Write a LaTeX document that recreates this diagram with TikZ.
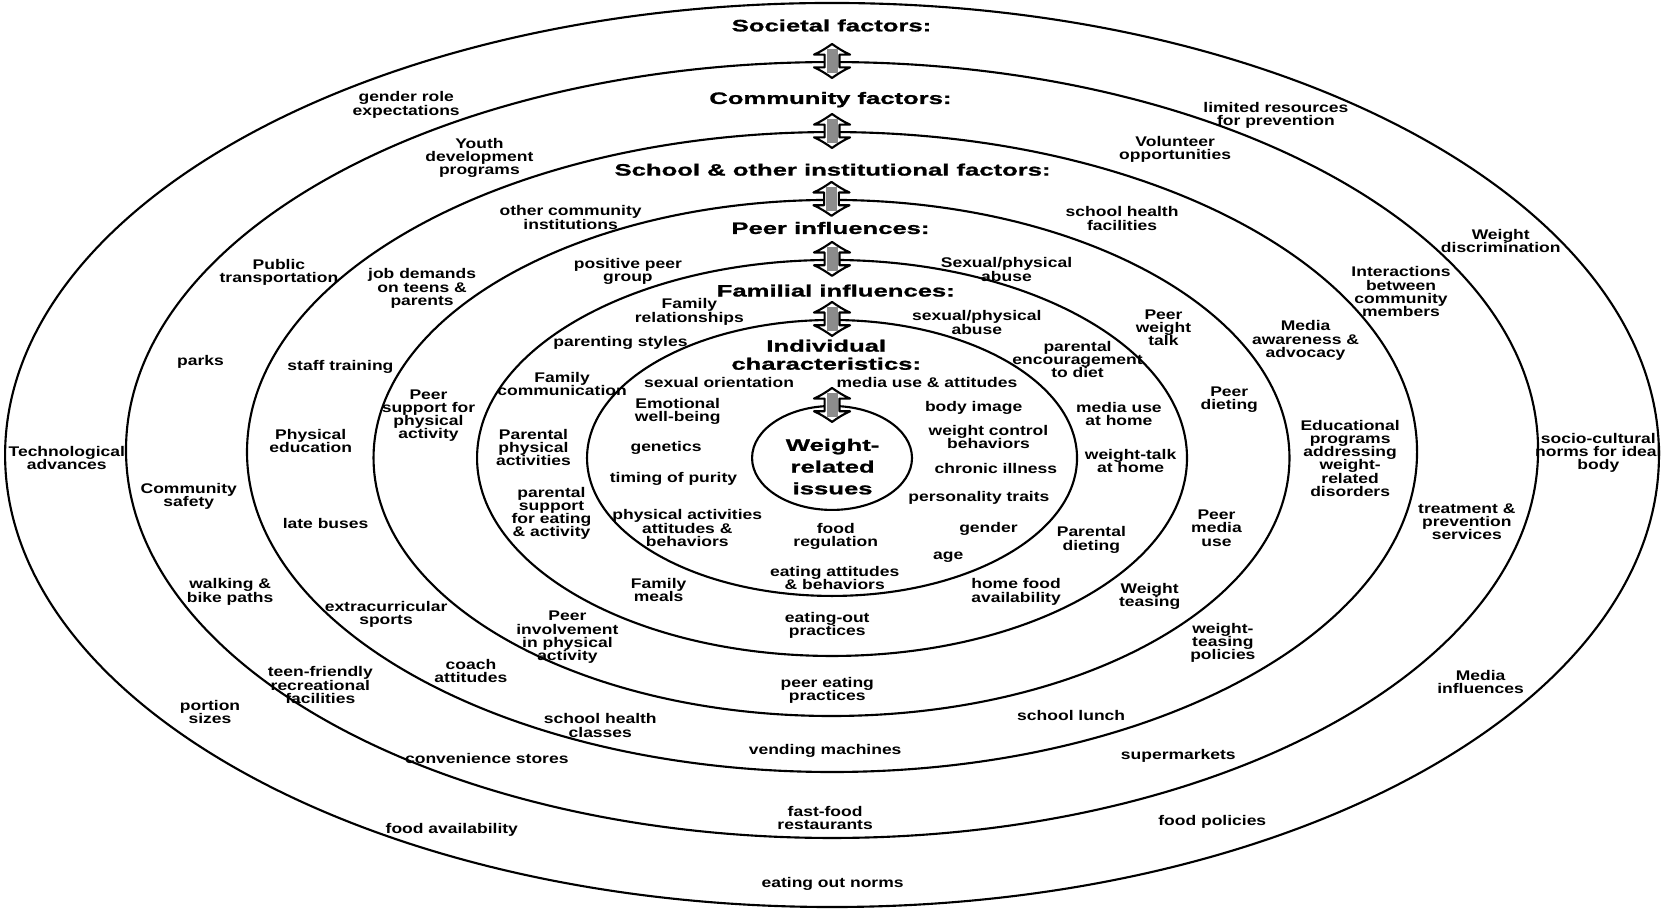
\documentclass[tikz,border=0pt]{standalone}
\usepackage{fontspec}
\newfontfamily\lblfont{Liberation Sans}[FakeStretch=1.25]
\newfontfamily\hdfont{Liberation Sans}[FakeStretch=1.55,FakeBold=1.2]
\usetikzlibrary{shapes.geometric}
\begin{document}
\begin{tikzpicture}[x=0.5pt,y=-0.5pt,
  ring/.style={draw, line width=1pt, ellipse, inner sep=0pt},
  lbl/.style={align=center, inner sep=0pt, yshift=-1pt, font=\lblfont\bfseries\fontsize{6.6}{6.25}\selectfont},
  hd/.style={align=center, inner sep=0pt, font=\hdfont\bfseries\fontsize{7.8}{8.5}\selectfont},
  core/.style={align=center, inner sep=0pt, font=\hdfont\bfseries\fontsize{7.8}{10.25}\selectfont},
  dbl/.pic={
    \draw[line width=1pt, fill=white, line join=round]
      (0,-16) .. controls (5,-12.5) and (11,-8.5) .. (17,-6) -- (7,-6) -- (7,6) -- (17,6)
      .. controls (11,8.5) and (5,12.5) .. (0,16)
      .. controls (-5,12.5) and (-11,8.5) .. (-17,6) -- (-7,6) -- (-7,-6) -- (-17,-6)
      .. controls (-11,-8.5) and (-5,-12.5) .. cycle;
    \fill[black!45] (-5.2,-11) rectangle (5.2,11);
  }]
\useasboundingbox (0,0) rectangle (1568,865);
\fill[white] (0,0) rectangle (1568,865);

% nested spheres of influence
\node[ring, minimum width=779.7pt, minimum height=426.2pt] (soc)  at (784.5,429.0) {};
\node[ring, minimum width=665.7pt, minimum height=365.8pt] (com)  at (784.5,424.3) {};
\node[ring, minimum width=551.6pt, minimum height=301.7pt] (sch)  at (784.5,426.2) {};
\node[ring, minimum width=431.8pt, minimum height=243.3pt] (peer) at (784.0,431.8) {};
\node[ring, minimum width=334.7pt, minimum height=186.7pt] (fam)  at (784.5,431.8) {};
\node[ring, minimum width=231.0pt, minimum height=130.1pt] (ind)  at (784.5,431.8) {};
\node[ring, minimum width=75.4pt,  minimum height=49.0pt]  (wri)  at (784.5,431.8) {};

% two-way arrows between levels
\path (com.north)  pic {dbl};
\path (sch.north)  pic {dbl};
\path (peer.north) pic {dbl};
\path (fam.north)  pic {dbl};
\path (ind.north)  pic {dbl};
\path (wri.north)  pic {dbl};

% level headings
\node[hd] (hsoc)  at (784,24)  {Societal factors:};
\node[hd] (hcom)  at (783,94)  {Community factors:};
\node[hd] (hsch)  at (785,160) {School \& other institutional factors:};
\node[hd] (hpeer) at (783,215) {Peer influences:};
\node[hd] (hfam)  at (788,274) {Familial influences:};
\node[hd] (hind)  at (779,334.5) {Individual\\characteristics:};
\node[core] (hwri) at (785,440) {Weight-\\related\\issues};

% societal factors
\node[lbl] (s1)  at (383,97)   {gender role\\expectations};
\node[lbl] (s2)  at (1203,107) {limited resources\\for prevention};
\node[lbl] (s3)  at (1415,225) {Weight\\discrimination};
\node[lbl] (s4)  at (1507,425) {socio-cultural\\norms for ideal\\body};
\node[lbl] (s5)  at (1383,490) {treatment \&\\prevention\\services};
\node[lbl] (s6)  at (1396,641) {Media\\influences};
\node[lbl] (s7)  at (1143,773) {food policies};
\node[lbl] (s8)  at (785,831)  {eating out norms};
\node[lbl] (s9)  at (426,780)  {food availability};
\node[lbl] (s10) at (198,669)  {portion\\sizes};
\node[lbl] (s11) at (63,430)   {Technological\\advances};

% community factors
\node[lbl] (c1)  at (452,147)  {Youth\\development\\programs};
\node[lbl] (c2)  at (1108,139) {Volunteer\\opportunities};
\node[lbl] (c3)  at (1321,273) {Interactions\\between\\community\\members};
\node[lbl] (c4)  at (263,255)  {Public\\transportation};
\node[lbl] (c5)  at (189,339)  {parks};
\node[lbl] (c6)  at (178,466)  {Community\\safety};
\node[lbl] (c7)  at (217,556)  {walking \&\\bike paths};
\node[lbl] (c8)  at (302,644)  {teen-friendly\\recreational\\facilities};
\node[lbl] (c9)  at (459,713)  {convenience stores};
\node[lbl] (c10) at (778,769)  {fast-food\\restaurants};
\node[lbl] (c11) at (1111,711) {supermarkets};

% school and other institutional factors
\node[lbl] (i1)  at (538,203)  {other community\\institutions};
\node[lbl] (i2)  at (1058,204) {school health\\facilities};
\node[lbl] (i3)  at (398,270)  {job demands\\on teens \&\\parents};
\node[lbl] (i4)  at (321,344)  {staff training};
\node[lbl] (i5)  at (293,414)  {Physical\\education};
\node[lbl] (i6)  at (307,492)  {late buses};
\node[lbl] (i7)  at (364,577)  {extracurricular\\sports};
\node[lbl] (i8)  at (444,631)  {coach\\attitudes};
\node[lbl] (i9)  at (566,682)  {school health\\classes};
\node[lbl] (i10) at (778,706)  {vending machines};
\node[lbl] (i11) at (1010,673) {school lunch};
\node[lbl] (i12) at (1153,604) {weight-\\teasing\\policies};
\node[lbl] (i13) at (1231,319) {Media\\awareness \&\\advocacy};
\node[lbl] (i14) at (1273,430) {Educational\\programs\\addressing\\weight-\\related\\disorders};

% peer influences
\node[lbl] (p1)  at (592,254)  {positive peer\\group};
\node[lbl] (p2)  at (949,252)  {Sexual/physical\\abuse};
\node[lbl] (p3)  at (1097,307) {Peer\\weight\\talk};
\node[lbl] (p4)  at (1159,375) {Peer\\dieting};
\node[lbl] (p5)  at (1147,496) {Peer\\media\\use};
\node[lbl] (p6)  at (1084,560) {Weight\\teasing};
\node[lbl] (p7)  at (780,649)  {peer eating\\practices};
\node[lbl] (p8)  at (535,599)  {Peer\\involvement\\in physical\\activity};
\node[lbl] (p9)  at (404,390)  {Peer\\support for\\physical\\activity};

% familial influences
\node[lbl] (f1)  at (650,292)  {Family\\relationships};
\node[lbl] (f2)  at (921,302)  {sexual/physical\\abuse};
\node[lbl] (f3)  at (585,321)  {parenting styles};
\node[lbl] (f4)  at (1016,337) {parental\\encouragement\\to diet};
\node[lbl] (f5)  at (530,360)  {Family\\communication};
\node[lbl] (f6)  at (1055,388) {media use\\at home};
\node[lbl] (f7)  at (503,420)  {Parental\\physical\\activities};
\node[lbl] (f8)  at (1066,433) {weight-talk\\at home};
\node[lbl] (f9)  at (520,482)  {parental\\support\\for eating\\\& activity};
\node[lbl] (f10) at (1029,507) {Parental\\dieting};
\node[lbl] (f11) at (621,554)  {Family\\meals};
\node[lbl] (f12) at (958,556)  {home food\\availability};
\node[lbl] (f13) at (780,588)  {eating-out\\practices};

% individual characteristics
\node[lbl] (n1)  at (678,359)  {sexual orientation};
\node[lbl] (n2)  at (874,359)  {media use \& attitudes};
\node[lbl] (n3)  at (639,386)  {Emotional\\well-being};
\node[lbl] (n4)  at (918,383)  {body image};
\node[lbl] (n5)  at (628,420)  {genetics};
\node[lbl] (n6)  at (932,410)  {weight control\\behaviors};
\node[lbl] (n7)  at (939,440)  {chronic illness};
\node[lbl] (n8)  at (635,450)  {timing of purity};
\node[lbl] (n9)  at (923,467)  {personality traits};
\node[lbl] (n10) at (648,496)  {physical activities\\attitudes \&\\behaviors};
\node[lbl] (n11) at (788,504)  {food\\regulation};
\node[lbl] (n12) at (932,497)  {gender};
\node[lbl] (n13) at (894,523)  {age};
\node[lbl] (n14) at (787,543)  {eating attitudes\\\& behaviors};
\end{tikzpicture}
\end{document}
